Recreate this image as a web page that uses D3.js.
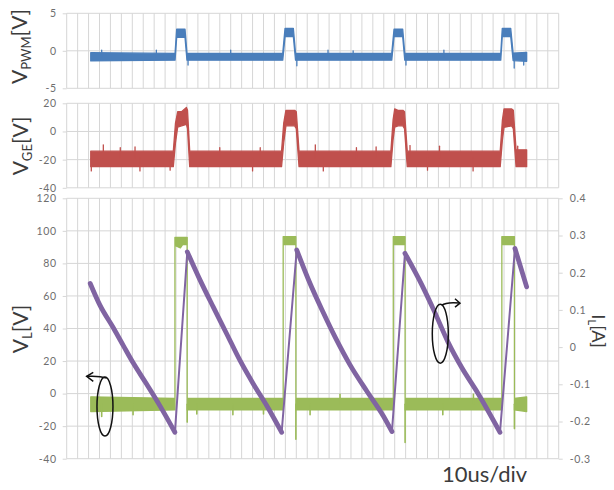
<!DOCTYPE html>
<html>
<head>
<meta charset="utf-8">
<script src="https://cdn.jsdelivr.net/npm/d3@7/dist/d3.min.js"></script>
<style>
  html, body { margin: 0; padding: 0; background: #fff; }
  #chart { width: 614px; height: 490px; }
  text { font-family: Lato, "Open Sans", sans-serif; }
</style>
</head>
<body>
<div id="chart"></div>
<script>
// ---- data (time in us, 10 us per division) ----

// PWM command voltage, noisy band given as lower / upper envelope
const pwmT  = [22, 99.1, 100.6, 108.2, 110.0, 197.6, 199.7, 207.3, 209.3, 297.3, 299.4, 307.3, 309.2, 397.0, 398.4, 406.1, 408.3, 420.7];
const pwmLo = [-1.35, -1.25, 1.8, 1.8, -1.25, -1.25, 1.9, 1.9, -1.25, -1.25, 1.9, 1.9, -1.25, -1.25, 1.9, 1.9, -1.3, -1.4];
const pwmHi = [-0.25, -0.35, 2.9, 2.9, -0.35, -0.35, 3.0, 3.0, -0.35, -0.35, 2.9, 2.9, -0.35, -0.35, 3.0, 3.0, -0.3, -0.2];
const pwmSpikeT = [32, 82, 111, 150, 210.5, 239, 262, 310.3, 345, 409.3, 418];
const pwmSpikeV = [0.1, 0.1, -1.9, 0.1, -2.0, 0.1, 0.0, -1.9, 0.1, -2.3, -1.9];

// gate-emitter voltage
const geT  = [22, 97.5, 99.5, 101.5, 105, 109.5, 110.5, 112.5, 196.5, 198.5, 200.5, 208.5, 210, 212.5, 296.5, 298.5, 300, 303, 307.5, 309, 311.5, 396.5, 398.5, 400, 407, 408.5, 411, 420.7];
const geLo = [-25, -25, -8, 3, 4, 5, 2, -25, -25, -8, 4, 4, 2, -25, -25, -6, 3, 4, 4, 2, -25, -25, -6, 3, 4, 2, -25, -25];
const geHi = [-14, -14, 6, 14, 14, 17, 15, -14, -14, 6, 15, 15, 14, -14, -14, 8, 16, 15, 15, 14, -14, -14, 8, 16, 16, 15, -13, -13];
const geSpikeT = [22.5, 33.5, 49, 62.5, 67, 94.6, 140, 170, 177, 227.4, 234.7, 265, 283, 314, 330, 341, 371.7, 412.5];
const geSpikeV = [-28, -9.5, -11.5, -11, -28, -27.5, -11.5, -28, -11.5, -9.5, -28, -11.5, -11, -10, -27.5, -10.5, -28, -10.5];

// inductor voltage (left axis)
const vlT  = [22, 99.0, 99.0, 104, 106, 110.2, 110.2, 198.0, 198.0, 209.6, 209.6, 298.7, 298.7, 309.5, 309.5, 398.0, 398.0, 409.5, 409.5, 420.7];
const vlLo = [-11, -10, 91, 89.5, 91.5, 91.5, -10, -10, 91.5, 91.5, -10, -10, 91.5, 91.5, -10, -10, 91.5, 91.5, -10, -11];
const vlHi = [-2, -3, 96, 96, 96, 96, -3, -3, 96.5, 96.5, -3, -3, 96.5, 96.5, -3, -3, 96.5, 96.5, -3, -2];
const vlSpikeT = [32, 60.7, 110.2, 119, 152, 180, 209.6, 222.6, 250, 309.5, 344, 372, 409.5];
const vlSpikeV = [-14, -13, -17.5, -12.5, -13, -12.5, -28, -13, -0.5, -30, -13, -0.5, -21.5];

// inductor current (right axis)
const ilT = [21.5, 30.5, 42.6, 51.8, 60.9, 73.2, 85.3, 99.0,
             110.3, 122.0, 134.0, 146.3, 158.5, 170.7, 182.9, 196.6,
             210.4, 222, 234, 246, 259, 274.4, 289.6, 297.5,
             309.4, 324.7, 336.9, 349.0, 361.3, 376.5, 396.3,
             410.0, 420.7];
const ilA = [0.171, 0.112, 0.052, 0.004, -0.043, -0.100, -0.158, -0.229,
             0.256, 0.180, 0.108, 0.036, -0.036, -0.099, -0.157, -0.229,
             0.261, 0.175, 0.097, 0.024, -0.047, -0.118, -0.185, -0.227,
             0.252, 0.168, 0.092, 0.012, -0.055, -0.126, -0.229,
             0.265, 0.162];

// tick labels
const pwmTicks = [5, 0, -5];
const geTicks = [20, 0, -20, -40];
const vlTicks = [120, 100, 80, 60, 40, 20, 0, -20, -40];
const ilTicks = [0.4, 0.3, 0.2, 0.1, 0, -0.1, -0.2, -0.3];

// ---- layout ----
const W = 614, H = 490;
const gridColor = '#d6d6d6';
const tickColor = '#6e6e6e';

const svg = d3.select('#chart')
    .append('svg')
    .attr('width', W)
    .attr('height', H);

const x = d3.scaleLinear().domain([0, 450]).range([66.7, 558.7]);

const yPwm = d3.scaleLinear().domain([-5, 5]).range([88.3, 13.3]);
const yGe = d3.scaleLinear().domain([-40, 20]).range([187.8, 103.3]);
const yVl = d3.scaleLinear().domain([-40, 120]).range([458.7, 198.3]);
const yIl = d3.scaleLinear().domain([-0.3, 0.4]).range([458.7, 198.3]);

// grid + axes for one panel
function drawPanel(y, ticks) {
    const g = svg.append('g');
    const [y0, y1] = y.range();

    // vertical division lines
    g.selectAll('line.v')
        .data(x.ticks(45))
        .enter()
        .append('line')
        .attr('x1', d => x(d)).attr('x2', d => x(d))
        .attr('y1', y1).attr('y2', y0)
        .attr('stroke', gridColor)
        .attr('stroke-width', 1);

    // horizontal lines at tick values
    g.selectAll('line.h')
        .data(ticks)
        .enter()
        .append('line')
        .attr('x1', x.range()[0]).attr('x2', x.range()[1])
        .attr('y1', d => y(d)).attr('y2', d => y(d))
        .attr('stroke', gridColor)
        .attr('stroke-width', 1);

    const axis = g.append('g')
        .attr('transform', `translate(${x.range()[0]},0)`)
        .call(d3.axisLeft(y).tickValues(ticks).tickSize(4).tickPadding(6)
            .tickFormat(d => String(d)));
    styleAxis(axis);
    return g;
}

function styleAxis(axis) {
    axis.select('.domain').remove();
    axis.selectAll('.tick line').attr('stroke', gridColor);
    axis.selectAll('.tick text')
        .style('font-family', 'Lato, sans-serif')
        .style('font-size', '10.5px')
        .style('letter-spacing', '0.6px')
        .attr('fill', tickColor);
}

// noisy trace drawn as an envelope band
function drawBand(y, T, lo, hi, color) {
    const rows = T.map((t, i) => ({ t: t, lo: lo[i], hi: hi[i] }));
    const area = d3.area()
        .x(d => x(d.t))
        .y0(d => y(d.lo))
        .y1(d => y(d.hi));
    svg.append('path')
        .datum(rows)
        .attr('d', area)
        .attr('fill', color)
        .attr('stroke', color)
        .attr('stroke-width', 1.3)
        .attr('stroke-linejoin', 'round');
}

// single noise spikes sticking out of the band
function drawSpikes(y, T, V, base, color, width) {
    svg.append('g')
        .selectAll('line')
        .data(T.map((t, i) => ({ t: t, v: V[i] })))
        .enter()
        .append('line')
        .attr('x1', d => x(d.t)).attr('x2', d => x(d.t))
        .attr('y1', y(base)).attr('y2', d => y(d.v))
        .attr('stroke', color)
        .attr('stroke-width', width)
        .attr('stroke-linecap', 'round');
}

// rotated axis title with a subscript
function axisTitle(px, py, angle, main, sub, unit, size) {
    const t = svg.append('text')
        .attr('transform', `translate(${px},${py}) rotate(${angle})`)
        .attr('text-anchor', 'middle')
        .attr('fill', '#3c3c3c')
        .style('font-size', size + 'px');
    t.append('tspan').text(main);
    t.append('tspan').attr('dy', size * 0.2).style('font-size', (size * 0.62) + 'px').text(sub);
    t.append('tspan').attr('dy', -size * 0.2).text(unit);
}

// ---- panels ----
drawPanel(yPwm, pwmTicks);
drawPanel(yGe, geTicks);
drawPanel(yVl, vlTicks);

// right axis of bottom panel
const rightAxis = svg.append('g')
    .attr('transform', `translate(${x.range()[1]},0)`)
    .call(d3.axisRight(yIl).tickValues(ilTicks).tickSize(4).tickPadding(7)
        .tickFormat(d => String(d)));
styleAxis(rightAxis);

// ---- traces ----
drawBand(yPwm, pwmT, pwmLo, pwmHi, '#4a7ebb');
drawSpikes(yPwm, pwmSpikeT, pwmSpikeV, -0.8, '#4a7ebb', 1.3);

drawBand(yGe, geT, geLo, geHi, '#c0504d');
drawSpikes(yGe, geSpikeT, geSpikeV, -19, '#c0504d', 1.3);

drawBand(yVl, vlT, vlLo, vlHi, '#9bbb59');
drawSpikes(yVl, vlSpikeT, vlSpikeV, -6.5, '#9bbb59', 1.6);

// current: thick noisy ramps down, thin fast rises
const ilRows = ilT.map((t, i) => ({ t: t, a: ilA[i] }));
const ilLine = d3.line().x(d => x(d.t)).y(d => yIl(d.a)).curve(d3.curveMonotoneX);
function drawRun(run, rising) {
    svg.append('path').datum(run).attr('d', ilLine)
        .attr('fill', 'none').attr('stroke', '#8064a2')
        .attr('stroke-width', rising ? 2 : 4.8)
        .attr('stroke-linejoin', 'round').attr('stroke-linecap', 'round');
}
let run = [ilRows[0]];
let rising = ilRows[1].a > ilRows[0].a;
for (let i = 1; i < ilRows.length; i++) {
    const up = ilRows[i].a > ilRows[i - 1].a;
    if (up !== rising) {
        drawRun(run, rising);
        run = [ilRows[i - 1]];
        rising = up;
    }
    run.push(ilRows[i]);
}
drawRun(run, rising);

// ---- axis annotation circles ----
function marker(cx, cy, arrowPath, headPath) {
    const g = svg.append('g')
        .attr('transform', `translate(${cx},${cy})`)
        .attr('fill', 'none')
        .attr('stroke', '#111')
        .attr('stroke-width', 1.5);
    g.append('ellipse').attr('rx', 8).attr('ry', 29.5);
    g.append('path').attr('d', arrowPath);
    g.append('path').attr('d', headPath);
}
// left one points to the voltage axis, right one to the current axis
marker(x(35), yVl(-8), 'M1.7,-28.7 Q-6,-31 -18.3,-30.3', 'M-11.7,-34.3 L-18.3,-30.3 L-11.7,-25.3');
marker(x(341.7), yIl(0.036), 'M1.4,-28.3 Q6,-32 19.7,-30.6', 'M14.7,-35 L19.7,-30.6 L14.7,-26.6');

// ---- titles ----
axisTitle(27, 46.5, -90, 'V', 'PWM', '[V]', 21);
axisTitle(28, 146, -90, 'V', 'GE', '[V]', 21);
axisTitle(28, 329, -90, 'V', 'L', '[V]', 21);
axisTitle(592, 331, 90, 'I', 'L', '[A]', 18);

svg.append('text')
    .attr('x', 442)
    .attr('y', 482)
    .attr('fill', '#3c3c3c')
    .style('font-size', '22px')
    .text('10us/div');
</script>
</body>
</html>
